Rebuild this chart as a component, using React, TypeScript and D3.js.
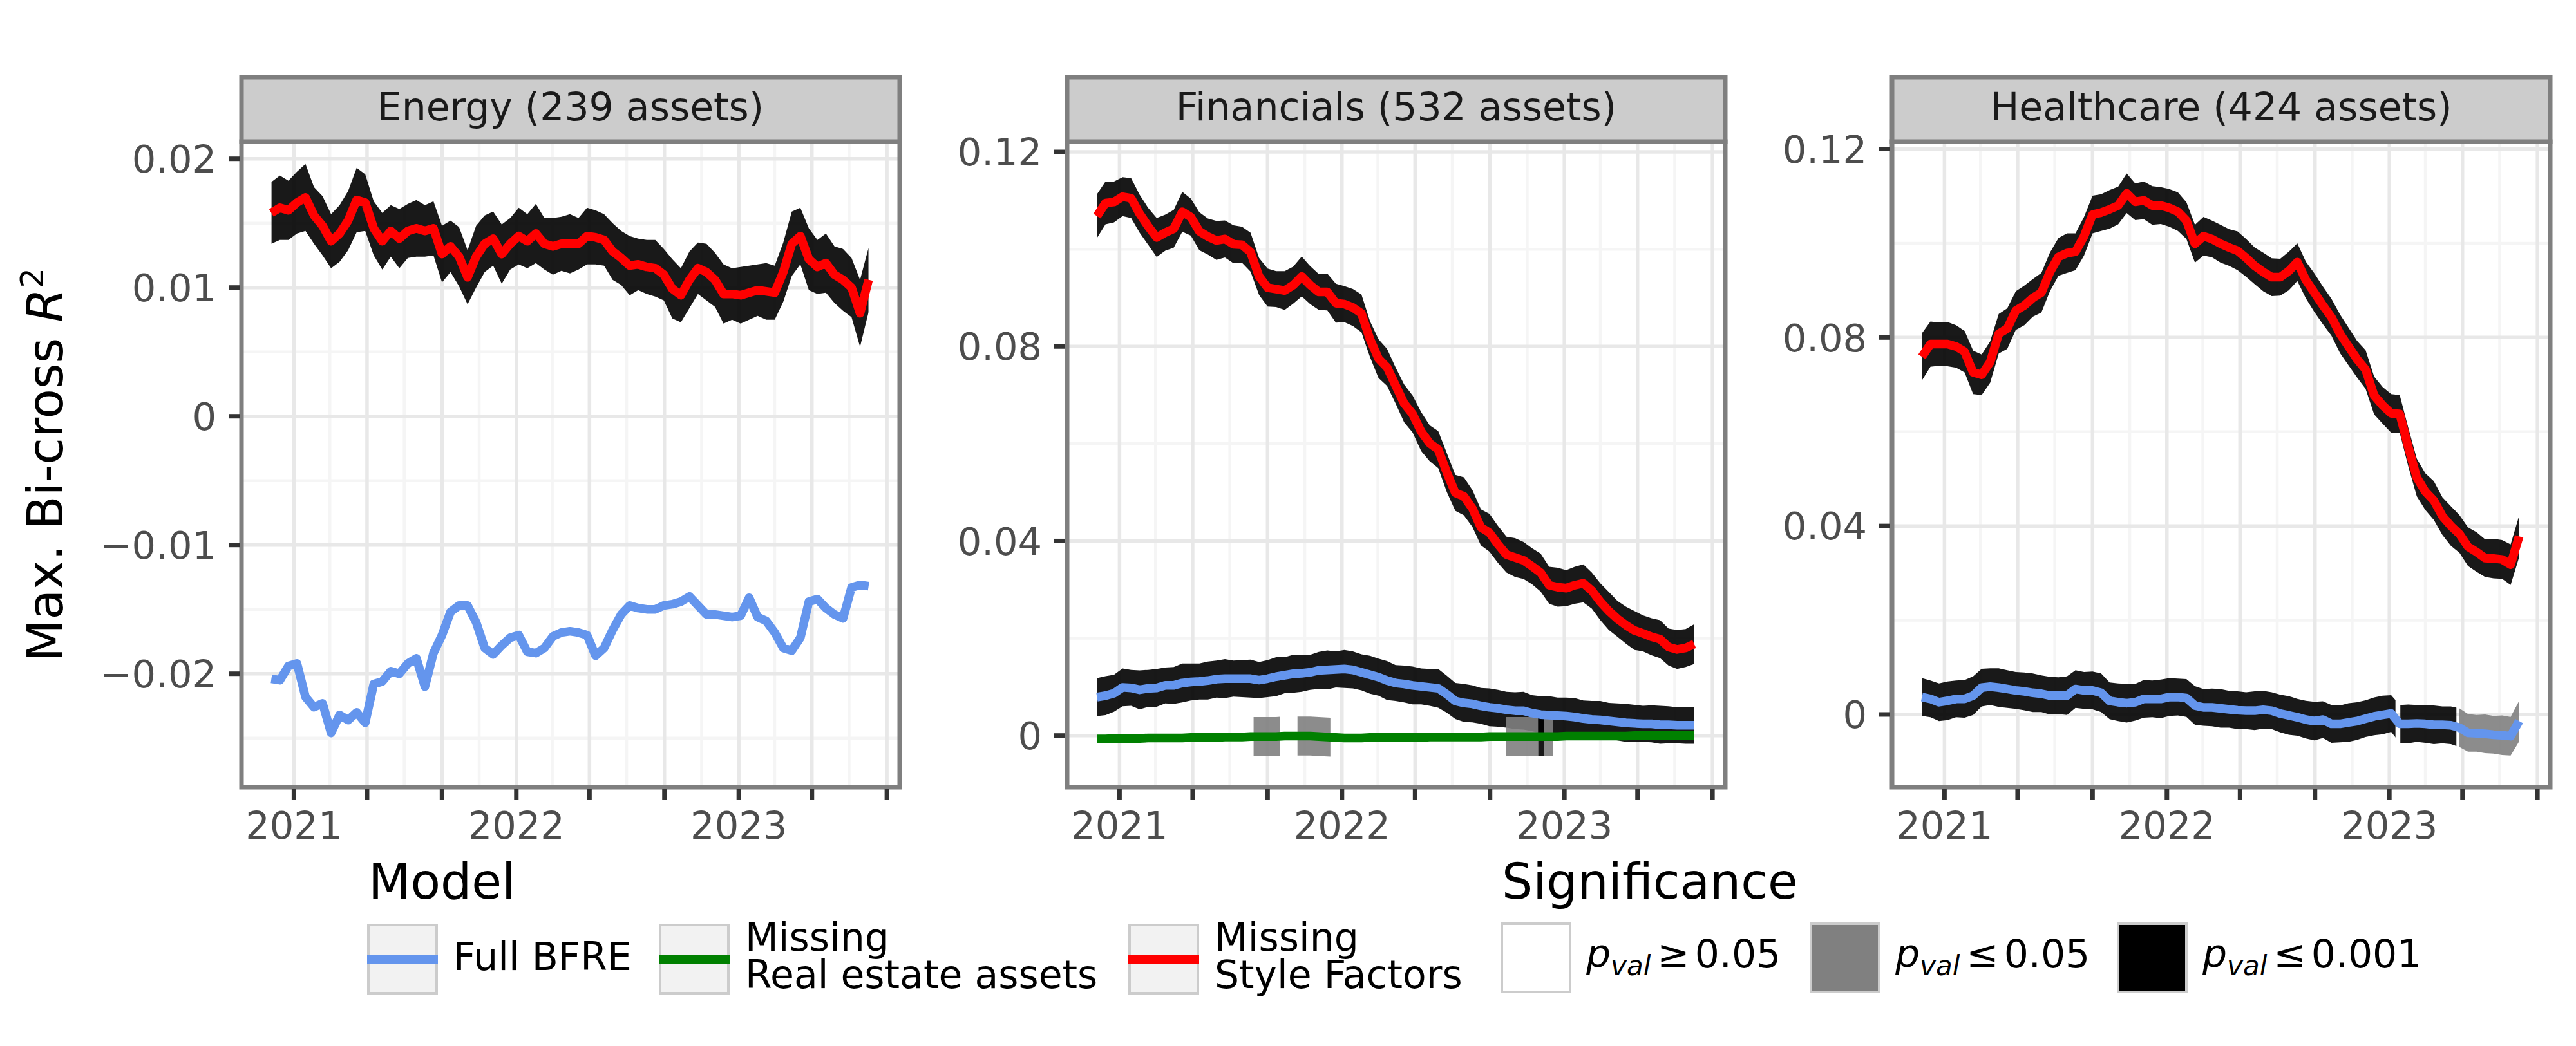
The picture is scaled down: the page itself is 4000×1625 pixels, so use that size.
import React from 'react';
import * as d3 from 'd3';

// ---------------- DATA ----------------
// sampling grid: every 14 days from 2020-11-25
const START_DATE = '2020-11-25';
const STEP_DAYS = 14;

const energyRed = [0.0158,0.0162,0.0160,0.0166,0.0170,0.0156,0.0148,0.0136,0.0142,0.0152,
  0.0168,0.0166,0.0146,0.0136,0.0144,0.0138,0.0144,0.0146,0.0144,0.0146,
  0.0126,0.0132,0.0124,0.0108,0.0124,0.0134,0.0138,0.0126,0.0134,0.0140,
  0.0136,0.0142,0.0134,0.0132,0.0134,0.0134,0.0134,0.0140,0.0139,0.0137,
  0.0128,0.0123,0.0117,0.0118,0.0116,0.0115,0.0110,0.0099,0.0094,0.0106,
  0.0115,0.0112,0.0106,0.0095,0.0095,0.0094,0.0096,0.0098,0.0097,0.0096,
  0.0112,0.0134,0.0140,0.0122,0.0116,0.0119,0.0110,0.0106,0.0100,0.0080,
  0.0106];
const energyRedCI = [0.0024,0.0025,0.0023,0.0024,0.0026,0.0022,0.0023,0.0021,0.0022,0.0023,
  0.0025,0.0022,0.0021,0.0022,0.0020,0.0023,0.0021,0.0022,0.0020,0.0021,
  0.0022,0.0020,0.0023,0.0021,0.0024,0.0022,0.0021,0.0023,0.0020,0.0022,
  0.0021,0.0023,0.0020,0.0022,0.0021,0.0023,0.0020,0.0022,0.0021,0.0020,
  0.0022,0.0021,0.0023,0.0020,0.0021,0.0022,0.0020,0.0023,0.0021,0.0022,
  0.0020,0.0022,0.0021,0.0023,0.0020,0.0022,0.0021,0.0020,0.0022,0.0021,
  0.0023,0.0025,0.0022,0.0024,0.0021,0.0023,0.0022,0.0024,0.0023,0.0026,
  0.0025];
const energyBlue = [-0.0204,-0.0205,-0.0194,-0.0192,-0.0218,-0.0226,-0.0223,-0.0246,-0.0232,-0.0236,
  -0.0230,-0.0238,-0.0208,-0.0206,-0.0198,-0.0200,-0.0192,-0.0188,-0.0210,-0.0184,
  -0.0170,-0.0152,-0.0147,-0.0147,-0.0160,-0.0180,-0.0185,-0.0178,-0.0172,-0.0170,
  -0.0183,-0.0184,-0.0180,-0.0171,-0.0168,-0.0167,-0.0168,-0.0170,-0.0186,-0.0180,
  -0.0166,-0.0154,-0.0147,-0.0149,-0.0150,-0.0150,-0.0147,-0.0146,-0.0144,-0.0140,
  -0.0147,-0.0154,-0.0154,-0.0155,-0.0156,-0.0155,-0.0141,-0.0156,-0.0159,-0.0168,
  -0.0180,-0.0182,-0.0172,-0.0144,-0.0142,-0.0149,-0.0154,-0.0157,-0.0133,-0.0131,
  -0.0132];

const finRed = [0.1068,0.1095,0.1097,0.1108,0.1105,0.1073,0.1047,0.1024,0.1034,0.1042,
  0.1077,0.1066,0.1037,0.1026,0.1018,0.1021,0.1010,0.1009,0.0994,0.0944,
  0.0921,0.0918,0.0915,0.0926,0.0944,0.0926,0.0912,0.0912,0.0889,0.0887,
  0.0880,0.0868,0.0815,0.0775,0.0757,0.0720,0.0683,0.0661,0.0625,0.0601,
  0.0588,0.0541,0.0499,0.0492,0.0467,0.0428,0.0417,0.0393,0.0372,0.0366,
  0.0360,0.0348,0.0335,0.0309,0.0305,0.0303,0.0309,0.0313,0.0298,0.0275,
  0.0256,0.0240,0.0227,0.0216,0.0210,0.0203,0.0198,0.0182,0.0177,0.0180,
  0.0188];
const finRedCI = [0.0045,0.0044,0.0042,0.0040,0.0041,0.0039,0.0038,0.0040,0.0037,0.0039,
  0.0041,0.0038,0.0039,0.0037,0.0040,0.0038,0.0039,0.0037,0.0040,0.0038,
  0.0039,0.0037,0.0040,0.0038,0.0041,0.0039,0.0037,0.0038,0.0040,0.0037,
  0.0038,0.0039,0.0037,0.0040,0.0038,0.0037,0.0039,0.0038,0.0040,0.0037,
  0.0038,0.0040,0.0037,0.0039,0.0038,0.0037,0.0039,0.0038,0.0037,0.0040,
  0.0038,0.0037,0.0039,0.0038,0.0040,0.0037,0.0038,0.0039,0.0037,0.0038,
  0.0039,0.0037,0.0038,0.0040,0.0037,0.0038,0.0039,0.0038,0.0040,0.0039,
  0.0041];
const finBlue = [0.0079,0.0082,0.0087,0.0099,0.0098,0.0094,0.0097,0.0098,0.0103,0.0103,
  0.0108,0.0110,0.0111,0.0113,0.0116,0.0117,0.0117,0.0117,0.0117,0.0114,
  0.0117,0.0121,0.0124,0.0127,0.0128,0.0130,0.0134,0.0135,0.0136,0.0137,
  0.0135,0.0130,0.0125,0.0120,0.0113,0.0108,0.0106,0.0103,0.0101,0.0099,
  0.0097,0.0085,0.0071,0.0067,0.0065,0.0061,0.0058,0.0056,0.0053,0.0051,
  0.0051,0.0046,0.0043,0.0042,0.0041,0.0040,0.0038,0.0035,0.0033,0.0032,
  0.0030,0.0028,0.0026,0.0025,0.0024,0.0024,0.0022,0.0022,0.0021,0.0021,
  0.0021];
const finBlueCI = [0.0039,0.0040,0.0038,0.0039,0.0037,0.0040,0.0038,0.0039,0.0037,0.0038,
  0.0040,0.0038,0.0037,0.0039,0.0038,0.0040,0.0037,0.0038,0.0039,0.0037,
  0.0038,0.0040,0.0037,0.0039,0.0038,0.0036,0.0038,0.0040,0.0037,0.0039,
  0.0038,0.0037,0.0039,0.0038,0.0040,0.0037,0.0038,0.0039,0.0037,0.0038,
  0.0040,0.0038,0.0037,0.0039,0.0038,0.0037,0.0039,0.0038,0.0037,0.0038,
  0.0039,0.0037,0.0038,0.0039,0.0037,0.0038,0.0039,0.0037,0.0038,0.0039,
  0.0037,0.0038,0.0039,0.0038,0.0037,0.0038,0.0039,0.0038,0.0037,0.0038,
  0.0038];
const finGreen = [-0.0007,-0.0007,-0.0006,-0.0006,-0.0006,-0.0006,-0.0005,-0.0005,-0.0005,-0.0005,
  -0.0005,-0.0004,-0.0004,-0.0004,-0.0004,-0.0003,-0.0003,-0.0003,-0.0002,-0.0002,
  -0.0002,-0.0002,-0.0001,-0.0001,-0.0001,-0.0001,-0.0002,-0.0003,-0.0004,-0.0005,
  -0.0005,-0.0005,-0.0004,-0.0004,-0.0004,-0.0004,-0.0004,-0.0004,-0.0004,-0.0003,
  -0.0003,-0.0003,-0.0003,-0.0003,-0.0003,-0.0003,-0.0002,-0.0002,-0.0002,-0.0002,
  -0.0002,-0.0002,-0.0002,-0.0002,-0.0002,-0.0001,-0.0001,-0.0001,-0.0001,-0.0001,
  -0.0001,-0.0001,-0.0001,0.0000,0.0000,0.0000,0.0000,0.0000,0.0000,0.0000,
  0.0000];
const finGreenCI = [0.0040,0.0040,0.0040,0.0040,0.0040,0.0040,0.0040,0.0040,0.0040,0.0040,
  0.0040,0.0040,0.0040,0.0040,0.0040,0.0040,0.0040,0.0040,0.0040,0.0040,
  0.0040,0.0040,0.0040,0.0040,0.0040,0.0040,0.0040,0.0040,0.0040,0.0040,
  0.0040,0.0040,0.0040,0.0040,0.0040,0.0040,0.0040,0.0040,0.0040,0.0040,
  0.0040,0.0040,0.0040,0.0040,0.0040,0.0040,0.0040,0.0040,0.0040,0.0040,
  0.0040,0.0040,0.0040,0.0040,0.0040,0.0040,0.0040,0.0040,0.0040,0.0040,
  0.0040,0.0040,0.0040,0.0040,0.0040,0.0040,0.0040,0.0040,0.0040,0.0040,
  0.0040];

const healthRed = [0.0759,0.0786,0.0786,0.0786,0.0781,0.0770,0.0726,0.0721,0.0748,0.0808,
  0.0819,0.0857,0.0868,0.0884,0.0895,0.0939,0.0971,0.0979,0.0982,0.1015,
  0.1061,0.1065,0.1072,0.1080,0.1106,0.1088,0.1091,0.1080,0.1080,0.1075,
  0.1067,0.1048,0.0999,0.1015,0.1009,0.0999,0.0991,0.0984,0.0969,0.0952,
  0.0939,0.0928,0.0928,0.0941,0.0960,0.0922,0.0895,0.0868,0.0843,0.0808,
  0.0781,0.0754,0.0732,0.0677,0.0656,0.0639,0.0638,0.0568,0.0503,0.0473,
  0.0454,0.0421,0.0400,0.0383,0.0356,0.0345,0.0332,0.0331,0.0329,0.0318,
  0.0378];
const healthRedCI = [0.0050,0.0048,0.0046,0.0047,0.0045,0.0044,0.0046,0.0043,0.0044,0.0042,
  0.0043,0.0041,0.0042,0.0040,0.0042,0.0041,0.0040,0.0042,0.0039,0.0041,
  0.0040,0.0039,0.0041,0.0040,0.0042,0.0039,0.0040,0.0041,0.0039,0.0040,
  0.0041,0.0039,0.0040,0.0041,0.0039,0.0040,0.0039,0.0041,0.0040,0.0039,
  0.0041,0.0040,0.0039,0.0041,0.0040,0.0039,0.0041,0.0040,0.0039,0.0041,
  0.0040,0.0039,0.0041,0.0040,0.0039,0.0041,0.0040,0.0041,0.0040,0.0039,
  0.0041,0.0040,0.0042,0.0040,0.0041,0.0042,0.0040,0.0042,0.0041,0.0043,
  0.0044];
const healthBlue = [0.0037,0.0033,0.0026,0.0029,0.0033,0.0033,0.0040,0.0057,0.0059,0.0057,
  0.0054,0.0051,0.0049,0.0046,0.0044,0.0040,0.0040,0.0040,0.0054,0.0051,
  0.0051,0.0046,0.0029,0.0026,0.0024,0.0026,0.0033,0.0033,0.0033,0.0037,
  0.0037,0.0035,0.0019,0.0015,0.0015,0.0013,0.0011,0.0009,0.0008,0.0008,
  0.0010,0.0008,0.0002,-0.0002,-0.0006,-0.0011,-0.0014,-0.0011,-0.0020,-0.0020,
  -0.0017,-0.0014,-0.0009,-0.0004,-0.0001,0.0002,-0.0020,-0.0020,-0.0019,-0.0020,
  -0.0022,-0.0022,-0.0023,-0.0028,-0.0039,-0.0040,-0.0041,-0.0043,-0.0044,-0.0046,
  -0.0014];
const healthBlueCI = [0.0040,0.0039,0.0040,0.0041,0.0039,0.0040,0.0041,0.0040,0.0039,0.0041,
  0.0040,0.0039,0.0040,0.0041,0.0039,0.0040,0.0039,0.0041,0.0040,0.0039,
  0.0040,0.0041,0.0039,0.0040,0.0041,0.0039,0.0040,0.0039,0.0041,0.0040,
  0.0039,0.0040,0.0041,0.0039,0.0040,0.0041,0.0039,0.0040,0.0039,0.0041,
  0.0040,0.0039,0.0040,0.0041,0.0039,0.0040,0.0041,0.0039,0.0040,0.0039,
  0.0041,0.0040,0.0039,0.0040,0.0041,0.0039,0.0040,0.0041,0.0039,0.0040,
  0.0041,0.0039,0.0040,0.0041,0.0040,0.0039,0.0041,0.0040,0.0042,0.0041,
  0.0043];

// significance segments [from, to, level]
const energyRedSig = [['2020-11-25', '2023-08-02', 'p001']];
const finRedSig = [['2020-11-25', '2023-08-02', 'p001']];
const finBlueSig = [['2020-11-25', '2023-08-02', 'p001']];
const finGreenSig = [
  ['2021-08-09', '2021-09-21', 'p05'],
  ['2021-10-20', '2021-12-13', 'p05'],
  ['2022-09-27', '2022-11-19', 'p05'],
  ['2022-11-19', '2022-11-29', 'p001'],
  ['2022-11-29', '2022-12-13', 'p05'],
];
const healthRedSig = [['2020-11-25', '2023-08-02', 'p001']];
const healthBlueSig = [
  ['2020-11-25', '2023-01-11', 'p001'],
  ['2023-01-19', '2023-04-21', 'p001'],
  ['2023-04-25', '2023-08-02', 'p05'],
];

// tick labels
const energyTicks = [-0.02, -0.01, 0, 0.01, 0.02];
const energyTickLabels = ['\u22120.02', '\u22120.01', '0', '0.01', '0.02'];
const energyMinor = [-0.025, -0.015, -0.005, 0.005, 0.015];
const finTicks = [0, 0.04, 0.08, 0.12];
const finTickLabels = ['0', '0.04', '0.08', '0.12'];
const finMinor = [0.02, 0.06, 0.10];
const healthTicks = [0, 0.04, 0.08, 0.12];
const healthTickLabels = ['0', '0.04', '0.08', '0.12'];
const healthMinor = [0.02, 0.06, 0.10];
const yearLabels = ['2021', '2022', '2023'];

const panelTitles = ['Energy (239 assets)', 'Financials (532 assets)', 'Healthcare (424 assets)'];

const modelLabels = [['Full BFRE'], ['Missing', 'Real estate assets'], ['Missing', 'Style Factors']];
const modelColors = ['#6495ed', '#008000', '#ff0000'];
const sigFills = ['#ffffff', '#808080', '#000000'];
const sigOps = ['\u2265', '\u2264', '\u2264'];
const sigValues = ['0.05', '0.05', '0.001'];

// ---------------- LAYOUT ----------------
const W = 4000, H = 1625;
const FONT = 'DejaVu Sans, Liberation Sans, sans-serif';
const PANEL_X0 = [375, 1657, 2938];
const PANEL_W = 1022;
const PLOT_TOP = 220, PLOT_BOTTOM = 1223, STRIP_TOP = 120;
const X_DOMAIN = ['2020-10-07', '2023-09-22'];
const Y_DOMAINS = [[-0.028815, 0.021335], [-0.01063, 0.12212], [-0.01544, 0.12157]];
const LEVEL_FILL = { p05: '#808080', p001: '#000000' };
const LINE_W = 13.5;

const parse = d3.utcParse('%Y-%m-%d');
const start = parse(START_DATE);
const dates = energyRed.map((_, i) => d3.utcDay.offset(start, i * STEP_DAYS));

const panels = [
  {
    ticks: energyTicks, labels: energyTickLabels, minor: energyMinor,
    series: [
      { values: energyBlue, ci: null, sig: [], color: modelColors[0] },
      { values: energyRed, ci: energyRedCI, sig: energyRedSig, color: modelColors[2] },
    ],
  },
  {
    ticks: finTicks, labels: finTickLabels, minor: finMinor,
    series: [
      { values: finBlue, ci: finBlueCI, sig: finBlueSig, color: modelColors[0] },
      { values: finGreen, ci: finGreenCI, sig: finGreenSig, color: modelColors[1] },
      { values: finRed, ci: finRedCI, sig: finRedSig, color: modelColors[2] },
    ],
  },
  {
    ticks: healthTicks, labels: healthTickLabels, minor: healthMinor,
    series: [
      { values: healthBlue, ci: healthBlueCI, sig: healthBlueSig, color: modelColors[0] },
      { values: healthRed, ci: healthRedCI, sig: healthRedSig, color: modelColors[2] },
    ],
  },
];

function Panel({ idx }: { idx: number }) {
  const cfg = panels[idx];
  const x0 = PANEL_X0[idx];
  const x1 = x0 + PANEL_W;
  const x = d3.scaleUtc().domain(X_DOMAIN.map((s) => parse(s) as Date)).range([x0, x1]);
  const y = d3.scaleLinear().domain(Y_DOMAINS[idx]).range([PLOT_BOTTOM, PLOT_TOP]);
  const [d0, d1] = x.domain();
  const majors = d3.utcMonth.every(4)!.range(d0, d1);
  const minors = majors.slice(0, -1).map((m) => d3.utcMonth.offset(m, 2));
  const clipId = `plot-clip-${idx}`;

  const line = d3.line<number>().x((_, i) => x(dates[i])).y((v) => y(v));

  return (
    <g>
      <defs>
        <clipPath id={clipId}>
          <rect x={x0} y={PLOT_TOP} width={PANEL_W} height={PLOT_BOTTOM - PLOT_TOP} />
        </clipPath>
        {cfg.series.map((s, si) =>
          s.sig.map((seg, k) => {
            const a = x(parse(seg[0]) as Date);
            const b = x(parse(seg[1]) as Date);
            return (
              <clipPath id={`seg-${idx}-${si}-${k}`} key={`c${si}-${k}`}>
                <rect x={a} y={PLOT_TOP} width={b - a} height={PLOT_BOTTOM - PLOT_TOP} />
              </clipPath>
            );
          })
        )}
      </defs>
      <rect x={x0} y={PLOT_TOP} width={PANEL_W} height={PLOT_BOTTOM - PLOT_TOP} fill="#ffffff" />
      {/* minor grid */}
      {cfg.minor.map((v, i) => (
        <line key={`ym${i}`} x1={x0} x2={x1} y1={y(v)} y2={y(v)} stroke="#f5f5f5" strokeWidth={4.5} />
      ))}
      {minors.map((d, i) => (
        <line key={`xm${i}`} x1={x(d)} x2={x(d)} y1={PLOT_TOP} y2={PLOT_BOTTOM} stroke="#f5f5f5" strokeWidth={4.5} />
      ))}
      {/* major grid */}
      {cfg.ticks.map((v, i) => (
        <line key={`yM${i}`} x1={x0} x2={x1} y1={y(v)} y2={y(v)} stroke="#e8e8e8" strokeWidth={5.5} />
      ))}
      {majors.map((d, i) => (
        <line key={`xM${i}`} x1={x(d)} x2={x(d)} y1={PLOT_TOP} y2={PLOT_BOTTOM} stroke="#e8e8e8" strokeWidth={5.5} />
      ))}
      <g clipPath={`url(#${clipId})`}>
        {/* ribbons */}
        {cfg.series.map((s, si) => {
          if (!s.ci) return null;
          const area = d3
            .area<number>()
            .x((_, i) => x(dates[i]))
            .y0((v, i) => y(v - (s.ci as number[])[i]))
            .y1((v, i) => y(v + (s.ci as number[])[i]));
          const dPath = area(s.values) || '';
          return s.sig.map((seg, k) => (
            <path
              key={`r${si}-${k}`}
              d={dPath}
              fill={LEVEL_FILL[seg[2] as 'p05' | 'p001']}
              fillOpacity={0.9}
              clipPath={`url(#seg-${idx}-${si}-${k})`}
            />
          ));
        })}
        {/* lines */}
        {cfg.series.map((s, si) => (
          <path
            key={`l${si}`}
            d={line(s.values) || ''}
            fill="none"
            stroke={s.color}
            strokeWidth={LINE_W}
            strokeLinejoin="round"
          />
        ))}
      </g>
      {/* border */}
      <rect x={x0} y={PLOT_TOP} width={PANEL_W} height={PLOT_BOTTOM - PLOT_TOP} fill="none" stroke="#7f7f7f" strokeWidth={7} />
      {/* strip */}
      <rect x={x0} y={STRIP_TOP} width={PANEL_W} height={PLOT_TOP - STRIP_TOP} fill="#cccccc" stroke="#7f7f7f" strokeWidth={7} />
      <text x={x0 + PANEL_W / 2} y={187} textAnchor="middle" fontFamily={FONT} fontSize={60} fill="#1a1a1a">
        {panelTitles[idx]}
      </text>
      {/* y ticks */}
      {cfg.ticks.map((v, i) => (
        <g key={`yt${i}`}>
          <line x1={x0 - 20} x2={x0 - 3} y1={y(v)} y2={y(v)} stroke="#333333" strokeWidth={7} />
          <text x={x0 - 39} y={y(v)} dy="0.36em" textAnchor="end" fontFamily={FONT} fontSize={59} fill="#4d4d4d">
            {cfg.labels[i]}
          </text>
        </g>
      ))}
      {/* x ticks */}
      {majors.map((d, i) => (
        <line key={`xt${i}`} x1={x(d)} x2={x(d)} y1={PLOT_BOTTOM + 3} y2={PLOT_BOTTOM + 20} stroke="#333333" strokeWidth={7} />
      ))}
      {yearLabels.map((lab) => (
        <text key={lab} x={x(parse(`${lab}-01-01`) as Date)} y={1303} textAnchor="middle" fontFamily={FONT} fontSize={59} fill="#4d4d4d">
          {lab}
        </text>
      ))}
    </g>
  );
}

function Legends() {
  const modelKeyX = [570, 1023, 1752];
  const sigKeyX = [2330, 2810, 3287];
  const keyY = 1435;
  const K = 110;
  return (
    <g fontFamily={FONT}>
      <text x={572} y={1396} fontSize={76} fill="#000">Model</text>
      {modelLabels.map((lines, i) => (
        <g key={`m${i}`}>
          <rect x={modelKeyX[i] + 2} y={keyY + 2} width={K - 4} height={K - 4} fill="#f2f2f2" stroke="#cccccc" strokeWidth={4} />
          <line x1={modelKeyX[i]} x2={modelKeyX[i] + K} y1={keyY + K / 2} y2={keyY + K / 2} stroke={modelColors[i]} strokeWidth={14} />
          {lines.length === 1 ? (
            <text x={modelKeyX[i] + 134} y={1507} fontSize={60} fill="#000">{lines[0]}</text>
          ) : (
            <text x={modelKeyX[i] + 134} y={1477} fontSize={60} fill="#000">
              {lines.map((t, j) => (
                <tspan key={j} x={modelKeyX[i] + 134} dy={j === 0 ? 0 : 58}>{t}</tspan>
              ))}
            </text>
          )}
        </g>
      ))}
      <text x={2332} y={1396} fontSize={76} fill="#000">Significance</text>
      {sigFills.map((f, i) => (
        <g key={`s${i}`}>
          <rect x={sigKeyX[i] + 2} y={keyY} width={K - 4} height={K - 4} fill={f} stroke="#cccccc" strokeWidth={4} />
          <text x={sigKeyX[i] + 133} y={1503} fontSize={60} fill="#000">
            <tspan fontStyle="italic">p</tspan>
            <tspan fontStyle="italic" fontSize={42} dy={12}>val</tspan>
            <tspan dy={-12} dx={10}>{sigOps[i]}</tspan>
            <tspan dx={8}>{sigValues[i]}</tspan>
          </text>
        </g>
      ))}
    </g>
  );
}

export default function App() {
  return (
    <svg width={W} height={H} viewBox={`0 0 ${W} ${H}`} style={{ position: 'absolute', left: 0, top: 0, background: '#ffffff' }}>
      <rect x={0} y={0} width={W} height={H} fill="#ffffff" />
      {[0, 1, 2].map((i) => (
        <Panel key={i} idx={i} />
      ))}
      <text transform="translate(97,722) rotate(-90)" textAnchor="middle" fontFamily={FONT} fontSize={76} fill="#000">
        Max. Bi-cross <tspan fontStyle="italic">R</tspan>
        <tspan fontSize={50} dy={-30}>2</tspan>
      </text>
      <Legends />
    </svg>
  );
}
